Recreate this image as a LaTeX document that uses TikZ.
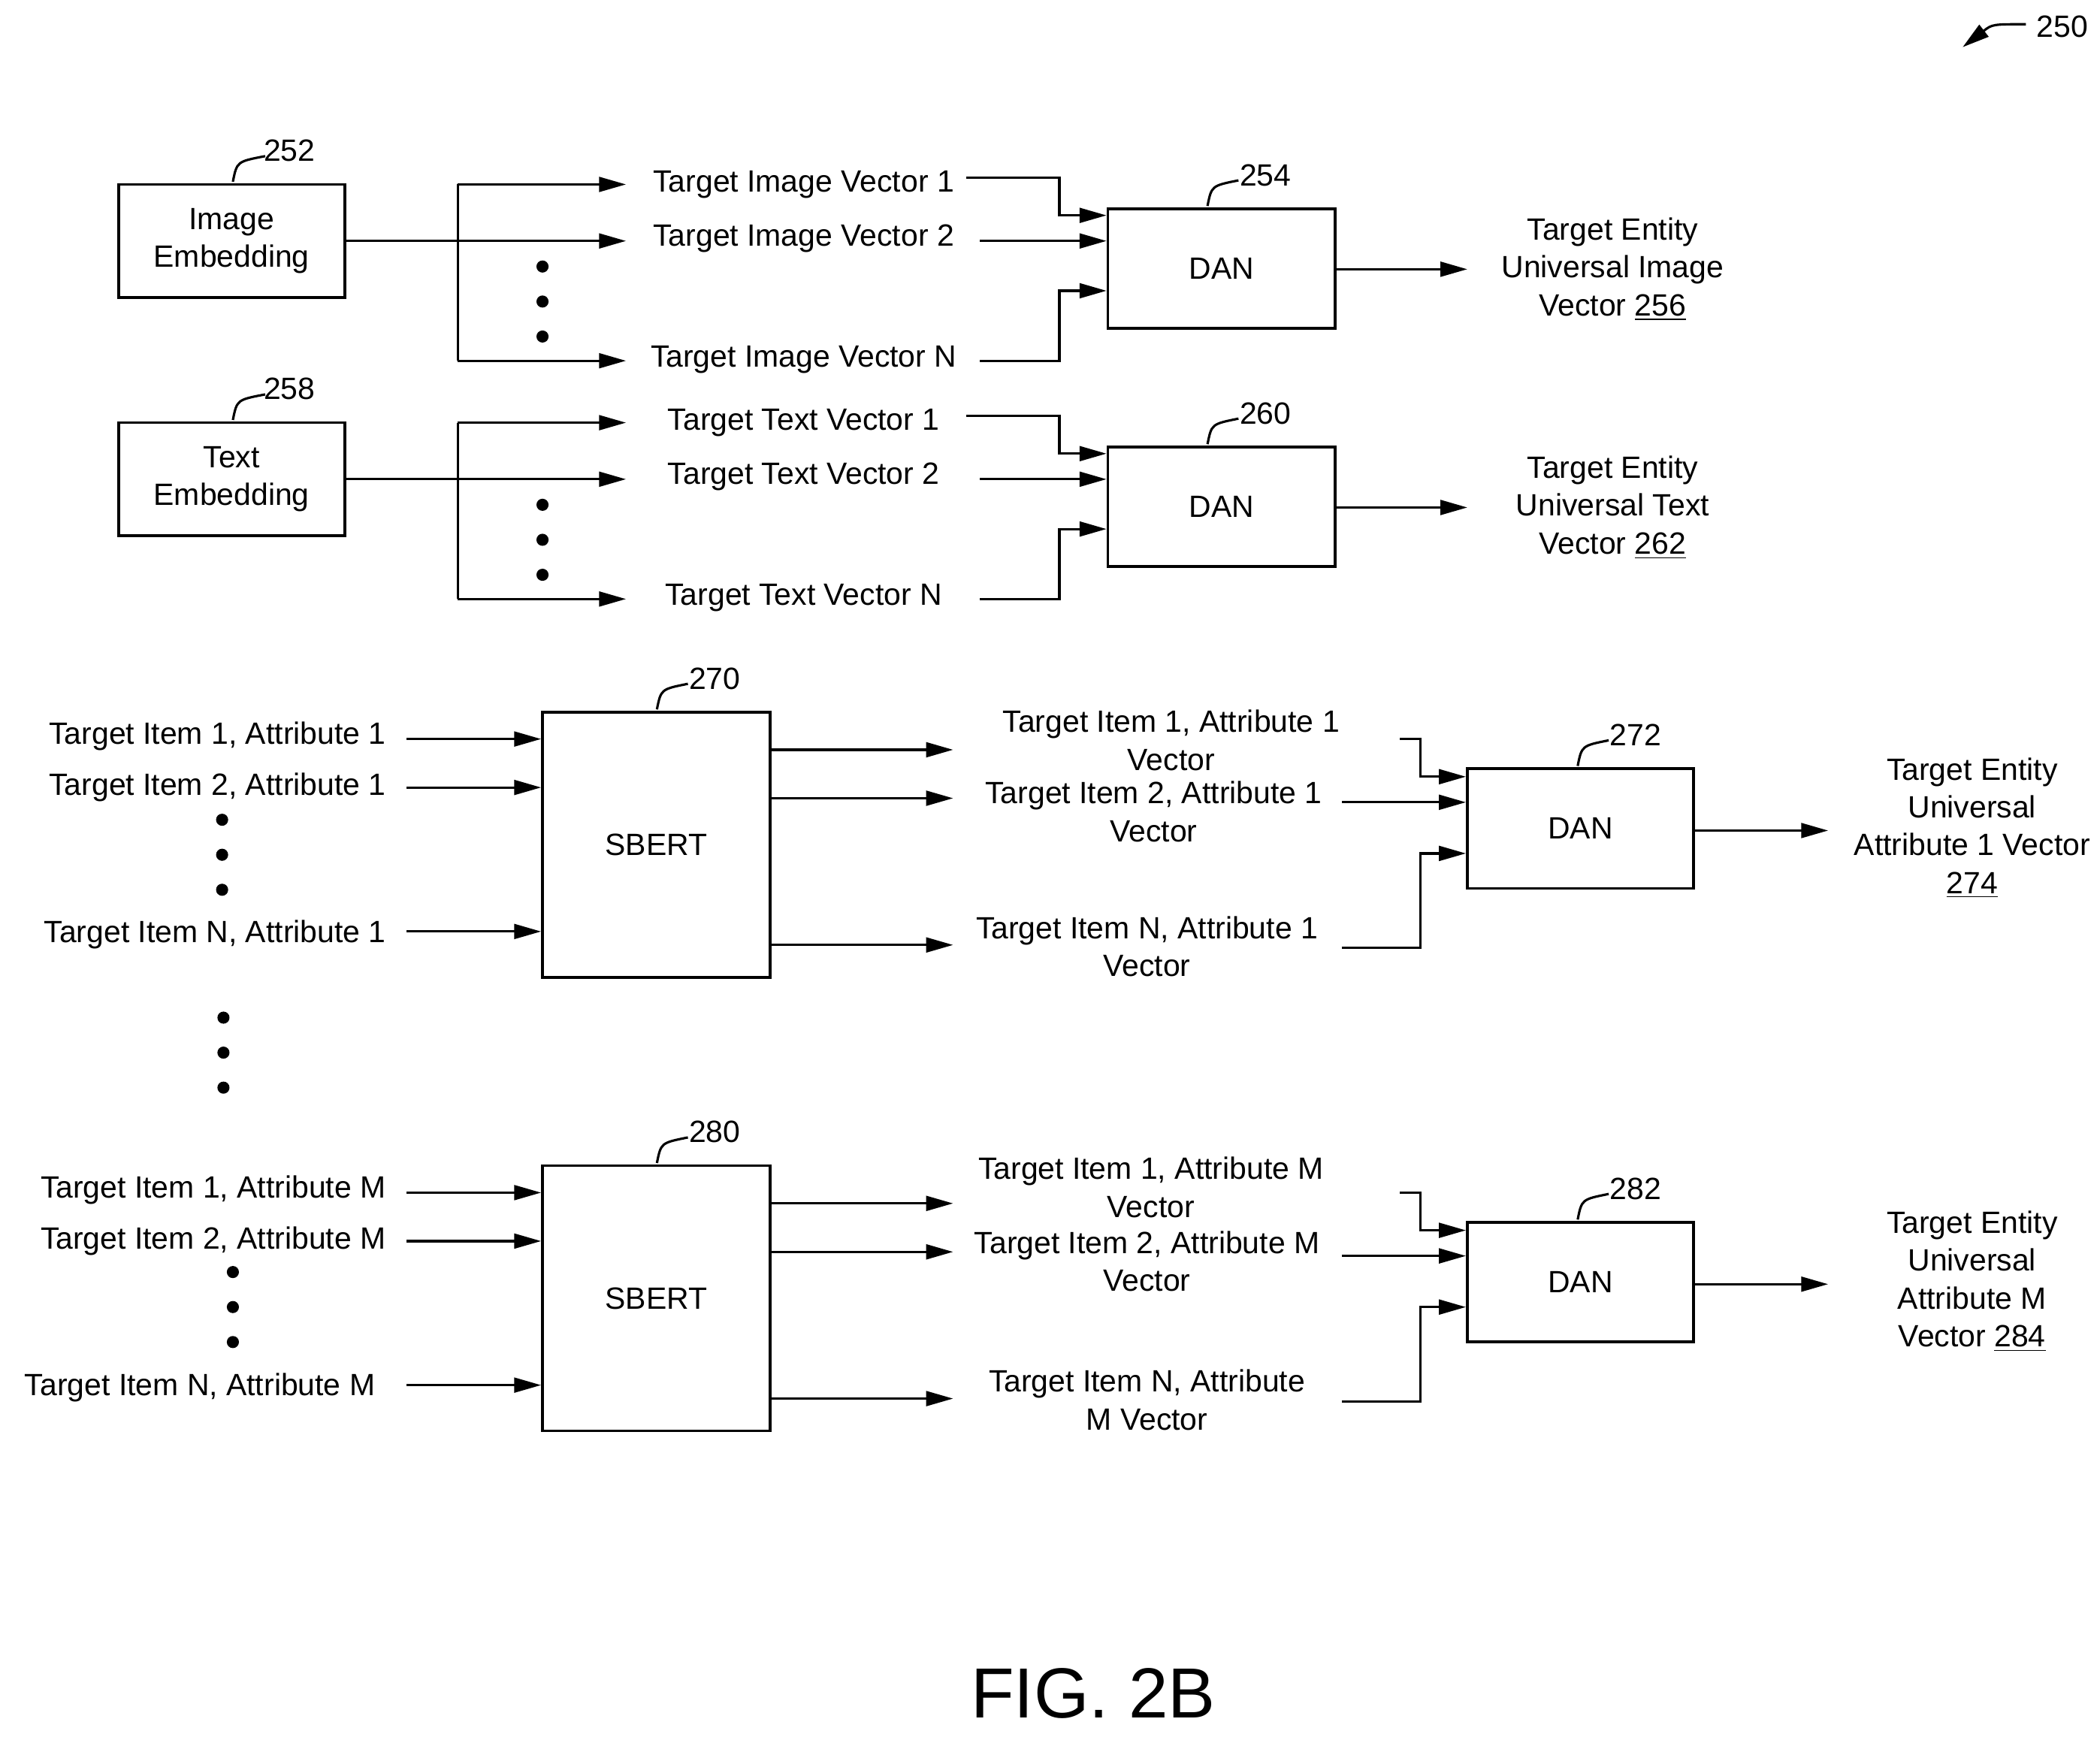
\documentclass[tikz,border=0pt]{standalone}
\usepackage{fontspec}
\setmainfont{Liberation Sans}
\usetikzlibrary{positioning,arrows.meta}
\tikzset{box node/.style={draw,line width=1.2pt,inner sep=0pt},
         lbl node/.style={font=\fontsize{13}{16}\selectfont,align=center,inner sep=0pt},
         ref node/.style={font=\fontsize{13}{14}\selectfont,inner sep=0pt},
         arr/.style={line width=1pt,-{Triangle[length=4mm,width=2.2mm]}},
         ln/.style={line width=1pt},
            }

\begin{document}
\begin{tikzpicture}[x=0.2mm,y=-0.2mm]
    \useasboundingbox (0,0) rectangle (1560,1290);

    % 250
    \node[lbl node] (250) at (1532,20) {250};
    \draw[arr] (1505,18) .. controls (1480,18) .. (1458,35);

    % image / text embedding rows
    \foreach \dy/\nm/\emb/\kind/\refa/\refb/\refc/\kindb in
      {0/img/Image/Image/252/254/256/Image,177/txt/Text/Text/258/260/262/Text}{
      \begin{scope}[yshift=-\dy*0.2mm]
      \node[box node,minimum width=33.6mm,minimum height=16.8mm,lbl node,draw] (\nm emb) at (172,179) {\emb\\Embedding};
      \node[ref node] (\nm r1) at (215,112) {\refa};
      \draw[ln] (173,135) .. controls (176,120) .. (197,116);
      \node[lbl node] (\nm v1) at (597,137) {Target \kind\ Vector 1};
      \node[lbl node] (\nm v2) at (597,177) {Target \kind\ Vector 2};
      \node[lbl node] (\nm vn) at (597,267) {Target \kind\ Vector N};
      \coordinate (\nm s) at (340,179);
      \draw[arr] (\nm emb.east) -- (465,179);
      \draw[arr] (340,137) -- (465,137);
      \draw[arr] (340,268) -- (465,268);
      \draw[ln] (340,137) -- (340,268);
      \foreach \y in {198,224,250} \fill (403,\y) circle (0.9mm);
      \node[box node,minimum width=33.8mm,minimum height=17.8mm,lbl node,draw] (\nm dan) at (907.5,199.5) {DAN};
      \node[ref node] (\nm r2) at (940,130) {\refb};
      \draw[ln] (897,153) .. controls (900,138) .. (920,134);
      \draw[arr] (718,132) -| (787,160) -- (\nm dan.west |- 0,160);
      \draw[arr] (728,179) -- (\nm dan.west |- 0,179);
      \draw[arr] (728,268) -| (787,216) -- (\nm dan.west |- 0,216);
      \draw[arr] (\nm dan.east |- 0,200) -- (1090,200);
      \node[lbl node] (\nm out) at (1198,200) {Target Entity\\Universal \kindb\\Vector \underline{\refc}};
      \end{scope}}

    % attribute rows
    \foreach \dy/\nm/\at/\refa/\refb/\refc/\outtxt/\nx in
      {0/a/1/270/272/274/{Attribute 1 Vector\\\underline{274}}/287,
       337/m/M/280/282/284/{Attribute M\\Vector \underline{284}}/279}{
      \begin{scope}[yshift=-\dy*0.2mm]
      \node[box node,minimum width=33.8mm,minimum height=39.4mm,lbl node,draw] (\nm sb) at (487.5,627.5) {SBERT};
      \node[ref node] (\nm r1) at (531,504) {\refa};
      \draw[ln] (488,527) .. controls (491,512) .. (511,508);
      \node[lbl node,anchor=east] (\nm i1) at (287,547) {Target Item 1, Attribute \at};
      \node[lbl node,anchor=east] (\nm i2) at (287,585) {Target Item 2, Attribute \at};
      \node[lbl node,anchor=east] (\nm in) at (\nx,694) {Target Item N, Attribute \at};
      \draw[arr] (302,549) -- (\nm sb.west |- 0,549);
      \draw[arr] (302,585) -- (\nm sb.west |- 0,585);
      \draw[arr] (302,692) -- (\nm sb.west |- 0,692);
      \draw[arr] (\nm sb.east |- 0,557) -- (708,557);
      \draw[arr] (\nm sb.east |- 0,593) -- (708,593);
      \draw[arr] (\nm sb.east |- 0,702) -- (708,702);
      \node[box node,minimum width=33.6mm,minimum height=17.8mm,lbl node,draw] (\nm dan) at (1174,615.5) {DAN};
      \node[ref node] (\nm r2) at (1215,546) {\refb};
      \draw[ln] (1172,569) .. controls (1175,554) .. (1195,550);
      \draw[arr] (1040,549) -| (1055,577) -- (\nm dan.west |- 0,577);
      \draw[arr] (997,596) -- (\nm dan.west |- 0,596);
      \draw[arr] (997,704) -| (1055,634) -- (\nm dan.west |- 0,634);
      \draw[arr] (\nm dan.east |- 0,617) -- (1358,617);
      \node[lbl node] (\nm out) at (1465,615) {Target Entity\\Universal\\\outtxt};
      \end{scope}}
    \foreach \y in {609,635,661} \fill (165,\y) circle (0.9mm);
    \foreach \y in {945,971,997} \fill (173,\y) circle (0.9mm);
    \foreach \y in {756,782,808} \fill (166,\y) circle (0.9mm);

    \node[lbl node] (ao1) at (870,550) {Target Item 1, Attribute 1\\Vector};
    \node[lbl node] (ao2) at (857,603) {Target Item 2, Attribute 1\\Vector};
    \node[lbl node] (aon) at (852,703) {Target Item N, Attribute 1\\Vector};
    \node[lbl node] (mo1) at (855,882) {Target Item 1, Attribute M\\Vector};
    \node[lbl node] (mo2) at (852,937) {Target Item 2, Attribute M\\Vector};
    \node[lbl node] (mon) at (852,1040) {Target Item N, Attribute\\M Vector};

    \node[font=\fontsize{30}{32}\selectfont,inner sep=0pt] (fig) at (812,1258) {FIG. 2B};
\end{tikzpicture}
\end{document}
